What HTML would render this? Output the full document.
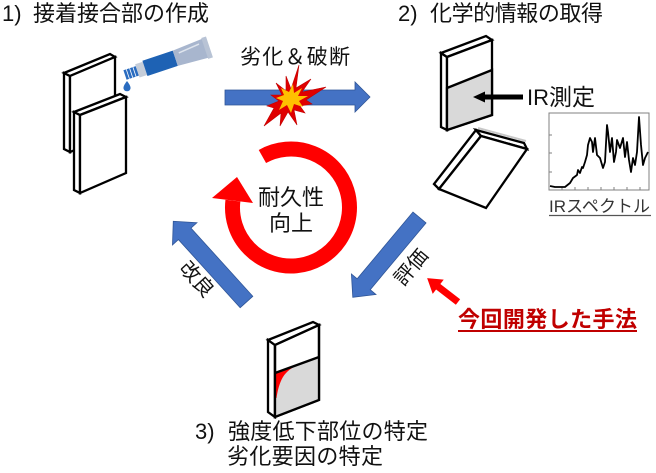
<!DOCTYPE html>
<html><head><meta charset="utf-8">
<style>
html,body{margin:0;padding:0;background:#fff;}
svg{display:block;}
text{font-family:"Liberation Sans","Noto Sans CJK JP",sans-serif;}
</style></head>
<body>
<svg width="656" height="473" viewBox="0 0 656 473" xmlns="http://www.w3.org/2000/svg">
<rect width="656" height="473" fill="#fff"/>

<!-- Titles -->
<text x="2" y="21" font-size="22" fill="#111">1)</text>
<text x="33" y="21" font-size="22" fill="#111" textLength="176" lengthAdjust="spacing">接着接合部の作成</text>
<text x="398" y="21" font-size="22" fill="#111">2)</text>
<text x="430" y="21" font-size="22" fill="#111" textLength="173" lengthAdjust="spacing">化学的情報の取得</text>

<!-- Panel 1 back -->
<g stroke="#000" stroke-width="2.3" stroke-linejoin="miter" fill="#fff">
  <polygon points="64,73 70,76 70,152 64,149"/>
  <polygon points="64,73 110,54 115,57 70,76"/>
  <polygon points="70,76 115,57 115,133 70,152"/>
</g>
<line x1="80" y1="112" x2="122" y2="95" stroke="#bbb" stroke-width="2"/>
<!-- Panel 1 front -->
<g stroke="#000" stroke-width="2.3" stroke-linejoin="miter" fill="#fff">
  <polygon points="74,112 80,115 80,193 74,190"/>
  <polygon points="74,112 120,94 126,97 80,115"/>
  <polygon points="80,115 126,97 126,173 80,193"/>
</g>

<!-- Glue tube -->
<g transform="translate(125,75) rotate(-18.4)">
  <rect x="0" y="-5" width="13" height="10" fill="#2a6cc0"/>
  <line x1="3" y1="-5" x2="3" y2="5" stroke="#fff" stroke-width="0.8"/>
  <line x1="6.5" y1="-5" x2="6.5" y2="5" stroke="#fff" stroke-width="0.8"/>
  <line x1="10" y1="-5" x2="10" y2="5" stroke="#fff" stroke-width="0.8"/>
  <rect x="13" y="-7" width="8" height="14" fill="#c5cdd9"/>
  <rect x="21" y="-8" width="32" height="16" fill="#1e62b4"/>
  <polygon points="53,-8 85,-10 85,10 53,8" fill="#a8b6ce"/>
  <rect x="84" y="-11" width="5" height="22" fill="#b8c3d5"/>
  <line x1="58" y1="-4" x2="80" y2="-6" stroke="#dfe5ee" stroke-width="1.5"/>
</g>
<path d="M127,81 Q123,86 123.5,88.5 A3.6,3.6 0 0 0 130.5,88.5 Q131,86 127,81 Z" fill="#2a6cc0"/>

<!-- Horizontal arrow -->
<polygon points="225,90 355,90 355,82 370,97 355,112 355,105 225,105" fill="#4472c4" stroke="#2f5597" stroke-width="0.8"/>
<text x="240" y="64" font-size="21" fill="#111" textLength="110" lengthAdjust="spacing">劣化＆破断</text>

<!-- Explosion -->
<polygon points="299,65 296,88 311,79 302,92 326,87 306,100 312,104 300,106 305,113 294,110 297,125 288,112 280,126 281,113 264,126 274,108 267,106 279,101 271,95 282,95 276,83 286,91 286,76 291,89" fill="#e00000" stroke="#c00000" stroke-width="0.6"/>
<polygon points="293,84 294,93 302,88 298,96 308,96 299,101 303,107 294,104 291,113 287,105 279,110 283,101 276,98 284,95 281,88 289,92" fill="#ffc000"/>

<!-- Panel 2 upright -->
<g stroke="#000" stroke-width="2.3" stroke-linejoin="miter" fill="#fff">
  <polygon points="441,53 447,57 447,130 441,127"/>
  <polygon points="441,53 486,36 492,40 447,57"/>
  <polygon points="447,57 492,40 492,115 447,130"/>
</g>
<polygon points="447,88 492,70 492,115 447,130" fill="#d9d9d9" stroke="#000" stroke-width="2.3" stroke-linejoin="miter"/>
<!-- black arrow -->
<polygon points="473,97 485,91.5 485,94.5 523,94.5 523,99.5 485,99.5 485,102.5" fill="#000"/>
<text x="527" y="105" font-size="22" fill="#111">IR<tspan font-size="23">測定</tspan></text>

<!-- Panel 2 lying -->
<line x1="478" y1="128" x2="526" y2="141" stroke="#c8c8c8" stroke-width="2"/>
<g stroke="#000" stroke-width="2.3" stroke-linejoin="miter" fill="#fff">
  <polygon points="476,130 434,184 439,189 481,136"/>
  <polygon points="476,130 524,143 527,149 481,136"/>
  <polygon points="481,136 527,149 486,208 439,189"/>
</g>

<!-- IR spectrum -->
<rect x="549" y="113" width="100" height="77" fill="#fff" stroke="#808080" stroke-width="1"/>
<g stroke="#808080" stroke-width="1">
  <line x1="549" y1="135" x2="552" y2="135"/>
  <line x1="549" y1="153" x2="552" y2="153"/>
  <line x1="549" y1="172" x2="552" y2="172"/>
  <line x1="562" y1="190" x2="562" y2="187"/>
  <line x1="575" y1="190" x2="575" y2="187"/>
  <line x1="588" y1="190" x2="588" y2="187"/>
  <line x1="601" y1="190" x2="601" y2="187"/>
  <line x1="614" y1="190" x2="614" y2="187"/>
  <line x1="627" y1="190" x2="627" y2="187"/>
  <line x1="640" y1="190" x2="640" y2="187"/>
</g>
<polyline fill="none" stroke="#000" stroke-width="1.8" stroke-linejoin="round" points="550,186 555,187 565,187 570,183 573,178 577,175 578,170 580,173 582,167 583,168 585,162 587,155 588,145 590,138 592,142 593,152 595,138 597,155 600,158 603,168 605,162 607,125 608,132 610,152 612,138 614,162 616,152 617,140 620,148 623,138 625,157 627,142 629,160 631,172 633,158 635,165 637,152 639,117 641,145 643,165 645,158 648,152"/>
<text x="549" y="212" font-size="17" fill="#333" textLength="101" lengthAdjust="spacing">IRスペクトル</text>
<line x1="549" y1="215.5" x2="651" y2="215.5" stroke="#555" stroke-width="1.2"/>

<!-- Red ring -->
<path d="M262.4,156.5 A58.5,58.5 0 1 1 232.9,200.6" fill="none" stroke="#ff0000" stroke-width="15"/>
<polygon points="212,198 253,203 237,177" fill="#ff0000"/>
<text x="291" y="205" font-size="22" fill="#111" text-anchor="middle">耐久性</text>
<text x="291" y="231" font-size="22" fill="#111" text-anchor="middle">向上</text>

<!-- Left arrow (改良) -->
<g transform="translate(246.5,302) rotate(227.8)">
  <polygon points="0,-8.5 92,-8.5 92,-16.5 109,0 92,16.5 92,8.5 0,8.5" fill="#4472c4" stroke="#2f5597" stroke-width="0.8"/>
</g>
<text x="0" y="0" font-size="20" fill="#111" text-anchor="middle" transform="translate(197,279) rotate(48) translate(0,7)">改良</text>

<!-- Right arrow (評価) -->
<g transform="translate(419.5,217.5) rotate(129.9)">
  <polygon points="0,-8.5 87,-8.5 87,-16 104,0 87,16 87,8.5 0,8.5" fill="#4472c4" stroke="#2f5597" stroke-width="0.8"/>
</g>
<text x="0" y="0" font-size="20" fill="#111" text-anchor="middle" transform="translate(411,267) rotate(-50) translate(0,7)">評価</text>

<!-- Red small arrow -->
<g transform="translate(458,302) rotate(217.7)">
  <polygon points="0,-3.5 25,-3.5 25,-9 39,0 25,9 25,3.5 0,3.5" fill="#ff0000"/>
</g>
<text x="458" y="327" font-size="22" font-weight="bold" fill="#c00000" textLength="179" lengthAdjust="spacing">今回開発した手法</text>
<line x1="458" y1="331" x2="637" y2="331" stroke="#c00000" stroke-width="2"/>

<!-- Panel 3 -->
<g stroke="#000" stroke-width="2.3" stroke-linejoin="miter" fill="#fff">
  <polygon points="268,340 275,345 275,417 268,412"/>
  <polygon points="268,340 313,322 319,325 275,345"/>
  <polygon points="275,345 319,325 319,400 275,417"/>
</g>
<polygon points="275,373 319,357 319,400 275,417" fill="#d9d9d9"/>
<path d="M275,374 L294,367 C284,372 279,381 276.5,398 L275,398 Z" fill="#ff0000"/>
<g stroke="#000" stroke-width="2.3" stroke-linejoin="miter" fill="none">
  <polygon points="275,345 319,325 319,400 275,417"/>
  <line x1="275" y1="373" x2="319" y2="357"/>
</g>

<text x="195" y="439" font-size="22" fill="#111">3)</text>
<text x="228" y="439" font-size="22" fill="#111" textLength="200" lengthAdjust="spacing">強度低下部位の特定</text>
<text x="227" y="464" font-size="22" fill="#111" textLength="156" lengthAdjust="spacing">劣化要因の特定</text>
</svg>
</body></html>
